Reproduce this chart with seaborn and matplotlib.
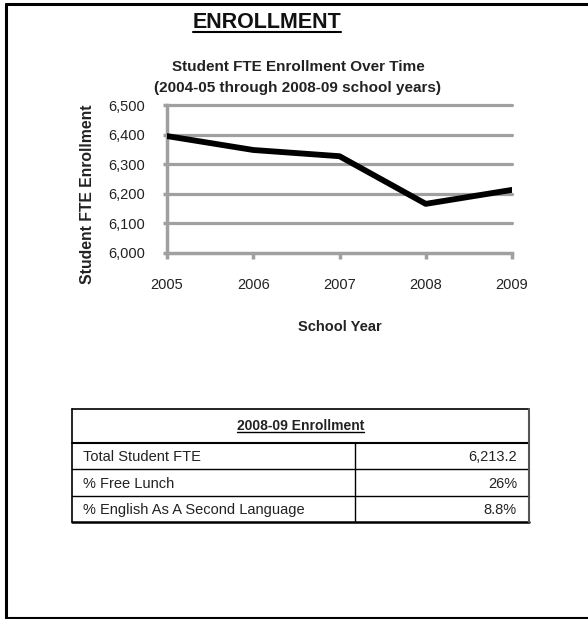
import matplotlib
matplotlib.use("Agg")
import matplotlib.pyplot as plt
import seaborn as sns
import pandas as pd
from matplotlib.lines import Line2D

years = [2005, 2006, 2007, 2008, 2009]
enrollment = [6395, 6348, 6327, 6166, 6213.2]
y_ticks = [6000, 6100, 6200, 6300, 6400, 6500]

table_title = "2008-09 Enrollment"
row_labels = ["Total Student FTE", "% Free Lunch", "% English As A Second Language"]
row_values = ["6,213.2", "26%", "8.8%"]

sns.set_theme(style="white")
plt.rcParams['font.family'] = ['Liberation Sans', 'DejaVu Sans']

W, H = 588, 619
fig = plt.figure(figsize=(W / 100, H / 100), dpi=100)

def fx(px):
    return px / W

def fy(py):
    return 1 - py / H

# outer border
fig.add_artist(Line2D([fx(6), 1.0], [fy(4), fy(4)], color="black", lw=2.2, transform=fig.transFigure))
fig.add_artist(Line2D([fx(6), fx(6)], [fy(4), fy(617.5)], color="black", lw=2.2, transform=fig.transFigure))
fig.add_artist(Line2D([fx(6), 1.0], [fy(617.5), fy(617.5)], color="black", lw=1.5, transform=fig.transFigure))

# main title
t1 = fig.text(fx(267), fy(22), "ENROLLMENT", ha="center", va="center", fontsize=15.5, fontweight="bold", color="#111111")
fig.text(fx(298), fy(67), "Student FTE Enrollment Over Time", ha="center", va="center", fontsize=11, fontweight="bold", color="#222222")
fig.text(fx(298), fy(88), "(2004-05 through 2008-09 school years)", ha="center", va="center", fontsize=11, fontweight="bold", color="#222222")

# line chart
left, right, top, bottom = 167, 512, 105, 253
ax = fig.add_axes([fx(left), fy(bottom), fx(right - left), (bottom - top) / H])
df = pd.DataFrame({"year": years, "enrollment": enrollment})
sns.lineplot(data=df, x="year", y="enrollment", ax=ax, color="black", linewidth=4.2, zorder=5)
ax.set_xlim(years[0], years[-1])
ax.set_ylim(y_ticks[0], y_ticks[-1])
ax.set_yticks(y_ticks)
ax.set_yticklabels([f"{v:,}" for v in y_ticks], fontsize=10.5, color="#222222")
ax.set_xticks(years)
ax.set_xticklabels([str(y) for y in years], fontsize=10.5, color="#222222")
for v in y_ticks[1:]:
    ax.axhline(v, color="#a0a0a0", lw=2.3, zorder=1, clip_on=False)
for s in ["top", "right"]:
    ax.spines[s].set_visible(False)
for s in ["left", "bottom"]:
    ax.spines[s].set_color("#a0a0a0")
    ax.spines[s].set_linewidth(2.5)
ax.tick_params(axis="x", which="both", bottom=True, length=4, width=2.5, color="#a0a0a0", pad=14)
ax.tick_params(axis="y", which="both", left=True, length=3, width=2.5, color="#a0a0a0", pad=12.5)
ax.set_xlabel("School Year", fontsize=10.5, fontweight="bold", labelpad=20, color="#222222")
ax.set_ylabel("Student FTE Enrollment", fontsize=11.3, fontweight="bold", color="#222222")
ax.yaxis.set_label_coords(-0.21, 0.40)
ax.set_facecolor("white")

# table
tl, tr, ttop = 72, 529, 409
hdr_b = 443
row_b = [469, 496, 522]
col_split = 355
tax = fig.add_axes([0, 0, 1, 1], zorder=-1)
tax.set_xlim(0, W)
tax.set_ylim(H, 0)
tax.axis("off")
lc = "black"
tax.plot([tl, tr], [ttop, ttop], color=lc, lw=1.2)
tax.plot([tl, tr], [hdr_b, hdr_b], color=lc, lw=1.5)
for i, b in enumerate(row_b):
    tax.plot([tl, tr], [b, b], color=lc, lw=1.8 if i == len(row_b) - 1 else 1.0)
tax.plot([tl, tl], [ttop, row_b[-1]], color=lc, lw=1.2)
tax.plot([tr, tr], [ttop, row_b[-1]], color="#555555", lw=1.5)
tax.plot([col_split, col_split], [hdr_b, row_b[-1]], color=lc, lw=1.0)
t2 = tax.text((tl + tr) / 2, (ttop + hdr_b) / 2, table_title, ha="center", va="center", fontsize=10, fontweight="bold", color="#222222")
tops = [hdr_b] + row_b[:-1]
for lab, val, a, b in zip(row_labels, row_values, tops, row_b):
    tax.text(83, (a + b) / 2 + 1, lab, ha="left", va="center", fontsize=10.5, color="#222222")
    tax.text(517, (a + b) / 2 + 1, val, ha="right", va="center", fontsize=10.5, color="#222222")

# underlines
fig.canvas.draw()
r = fig.canvas.get_renderer()
for t, lw in [(t1, 1.5), (t2, 1.0)]:
    bb = t.get_window_extent(r)
    fig.add_artist(Line2D([bb.x0 / W, bb.x1 / W], [(bb.y0 + 1) / H, (bb.y0 + 1) / H], color="black", lw=lw, transform=fig.transFigure))

fig.savefig("out.png", dpi=100, facecolor="white")
